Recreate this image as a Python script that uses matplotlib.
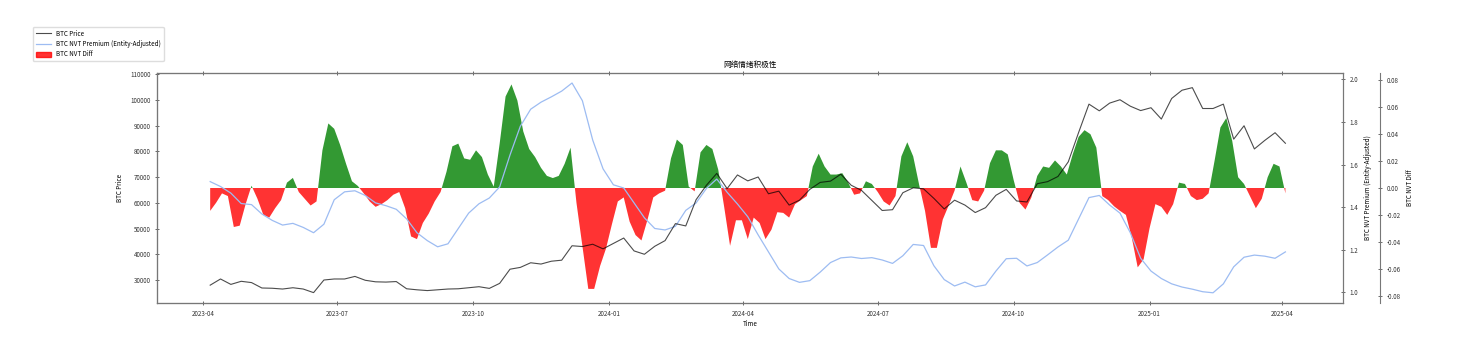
import numpy as np
import pandas as pd
import matplotlib
matplotlib.use('Agg')
import matplotlib.pyplot as plt
import matplotlib.dates as mdates
from matplotlib.patches import Patch
from matplotlib.lines import Line2D

# weekly samples starting 2023-04-06
btc_price = [
    28000, 30400, 28300, 29500, 29000, 26900, 26800, 26500, 27000, 26500,
    25100, 30000, 30400, 30400, 31400, 29900, 29300, 29200, 29400, 26600,
    26200, 25900, 26200, 26500, 26600, 27000, 27400, 26750, 28700, 34200,
    34900, 36700, 36200, 37300, 37700, 43300, 43000, 43900, 42100, 44200,
    46300, 41300, 40000, 43100, 45300, 51900, 51000, 61200, 66800, 71400,
    65500, 70800, 68500, 70000, 63500, 64500, 59100, 61000, 65200, 67900,
    68400, 71100, 66800, 64800, 60900, 57000, 57300, 63900, 65800, 65400,
    61700, 57600, 61000, 59100, 56200, 58100, 62900, 65200, 60700, 60300,
    67400, 68200, 70200, 75900, 87300, 98300, 95700, 98700, 100000, 97500,
    95800, 96900, 92500, 100500, 103700, 104700, 96600, 96600, 98300, 84700,
    89900, 80900, 84200, 87200, 83100,
]

nvt_premium = [
    1.520, 1.497, 1.466, 1.417, 1.412, 1.368, 1.338, 1.316, 1.324, 1.305,
    1.280, 1.320, 1.435, 1.472, 1.477, 1.455, 1.420, 1.407, 1.390, 1.345,
    1.280, 1.243, 1.214, 1.228, 1.300, 1.372, 1.416, 1.443, 1.495, 1.645,
    1.780, 1.860, 1.893, 1.918, 1.945, 1.983, 1.900, 1.715, 1.580, 1.505,
    1.490, 1.420, 1.350, 1.300, 1.293, 1.310, 1.385, 1.420, 1.488, 1.532,
    1.470, 1.415, 1.355, 1.270, 1.190, 1.110, 1.065, 1.047, 1.055, 1.095,
    1.140, 1.162, 1.166, 1.159, 1.163, 1.152, 1.136, 1.172, 1.225, 1.220,
    1.125, 1.060, 1.030, 1.048, 1.026, 1.035, 1.100, 1.158, 1.160, 1.124,
    1.140, 1.176, 1.213, 1.245, 1.345, 1.445, 1.455, 1.410, 1.372, 1.280,
    1.160, 1.100, 1.065, 1.040, 1.025, 1.015, 1.003, 0.998, 1.040, 1.120,
    1.165, 1.175, 1.170, 1.160, 1.190,
]

# samples every 4 days starting 2023-04-06
nvt_diff = [
    -0.017, -0.011, -0.004, -0.006, -0.029, -0.028, -0.012, 0.0017, -0.008, -0.020,
    -0.022, -0.015, -0.009, 0.004, 0.0075, -0.003, -0.008, -0.013, -0.010, 0.028,
    0.048, 0.044, 0.032, 0.018, 0.005, 0.0015, -0.004, -0.010, -0.014, -0.012,
    -0.009, -0.005, -0.003, -0.015, -0.036, -0.038, -0.026, -0.019, -0.010, -0.003,
    0.012, 0.031, 0.033, 0.022, 0.021, 0.028, 0.023, 0.010, 0.001, 0.033,
    0.068, 0.077, 0.065, 0.042, 0.029, 0.023, 0.015, 0.009, 0.0074, 0.009,
    0.018, 0.030, -0.011, -0.043, -0.075, -0.075, -0.058, -0.045, -0.027, -0.010,
    -0.007, -0.025, -0.035, -0.039, -0.024, -0.007, -0.004, -0.002, 0.022, 0.036,
    0.032, 0.001, -0.0025, 0.0265, 0.032, 0.029, 0.0136, -0.014, -0.043, -0.024,
    -0.024, -0.038, -0.022, -0.026, -0.038, -0.031, -0.018, -0.0185, -0.022, -0.012,
    -0.009, -0.006, 0.016, 0.0255, 0.016, 0.010, 0.010, 0.011, 0.004, -0.005,
    -0.004, 0.005, 0.003, -0.003, -0.010, -0.013, -0.006, 0.0235, 0.034, 0.0235,
    0.0025, -0.017, -0.0445, -0.0445, -0.0235, -0.013, -0.002, 0.016, 0.004, -0.009,
    -0.010, -0.002, 0.0185, 0.028, 0.028, 0.025, 0.006, -0.011, -0.016, -0.007,
    0.009, 0.016, 0.015, 0.0205, 0.016, 0.010, 0.025, 0.038, 0.043, 0.040,
    0.030, -0.006, -0.009, -0.0136, -0.017, -0.020, -0.037, -0.059, -0.053, -0.030,
    -0.012, -0.014, -0.020, -0.012, 0.004, 0.003, -0.006, -0.009, -0.008, -0.004,
    0.020, 0.045, 0.052, 0.035, 0.008, 0.003, -0.006, -0.015, -0.008, 0.008,
    0.018, 0.016, -0.004,
]

plt.rcParams['font.family'] = ['Noto Sans CJK SC', 'DejaVu Sans']
plt.rcParams['axes.unicode_minus'] = False
FS = 4.5

price_dates = pd.date_range('2023-04-06', periods=len(btc_price), freq='7D')
premium_dates = pd.date_range('2023-04-06', periods=len(nvt_premium), freq='7D')
diff_dates = pd.date_range('2023-04-06', periods=len(nvt_diff), freq='4D')

fig, ax1 = plt.subplots(figsize=(14.66, 3.58), dpi=100)
fig.subplots_adjust(left=0.1071, right=0.9161, top=0.7961, bottom=0.1536)
ax2 = ax1.twinx()
ax3 = ax1.twinx()
ax3.spines['right'].set_position(('axes', 1.031))

# diff areas behind, lines on top
ax3.set_zorder(1)
ax2.set_zorder(2)
ax1.set_zorder(3)
ax1.patch.set_visible(False)
ax2.patch.set_visible(False)

diff = np.array(nvt_diff)
ax3.fill_between(diff_dates, diff, 0, where=diff >= 0, interpolate=True,
                 color='green', alpha=0.8, linewidth=0)
ax3.fill_between(diff_dates, diff, 0, where=diff < 0, interpolate=True,
                 color='red', alpha=0.8, linewidth=0)
ax3.set_ylim(-0.0855, 0.0855)

ax1.plot(price_dates, btc_price, color='black', alpha=0.7, linewidth=0.8)
ax1.set_ylim(21070, 110390)
ax2.plot(premium_dates, nvt_premium, color='#9dbcf2', linewidth=0.9)
ax2.set_ylim(0.95, 2.03)

ax1.set_xlim(pd.Timestamp('2023-03-01'), pd.Timestamp('2025-05-12'))
ax1.xaxis.set_major_locator(mdates.MonthLocator(bymonth=[1, 4, 7, 10]))
ax1.xaxis.set_major_formatter(mdates.DateFormatter('%Y-%m'))

for ax in (ax1, ax2, ax3):
    ax.tick_params(labelsize=FS, length=2.5, width=0.5, direction='inout', colors='#333333')
    for s in ax.spines.values():
        s.set_color('#777777')
        s.set_linewidth(0.8)
ax1.tick_params(axis='x', top=True)

ax1.set_title('网络情绪积极性', fontsize=5.5, pad=4)
ax1.set_xlabel('Time', fontsize=FS, labelpad=2)
ax1.set_ylabel('BTC Price', fontsize=FS)
ax2.set_ylabel('BTC NVT Premium (Entity-Adjusted)', fontsize=FS)
ax3.set_ylabel('BTC NVT Diff', fontsize=FS)

handles = [
    Line2D([], [], color='black', alpha=0.7, linewidth=0.8),
    Line2D([], [], color='#9dbcf2', linewidth=0.9),
    Patch(color='red', alpha=0.8),
]
labels = ['BTC Price', 'BTC NVT Premium (Entity-Adjusted)', 'BTC NVT Diff']
fig.legend(handles, labels, loc='upper left', bbox_to_anchor=(33 / 1466, 1 - 27 / 358),
           borderaxespad=0, fontsize=FS, frameon=True, framealpha=1, edgecolor='#dddddd',
           handlelength=2.5, labelspacing=0.4)

fig.savefig('out.png', dpi=100, facecolor='white')
